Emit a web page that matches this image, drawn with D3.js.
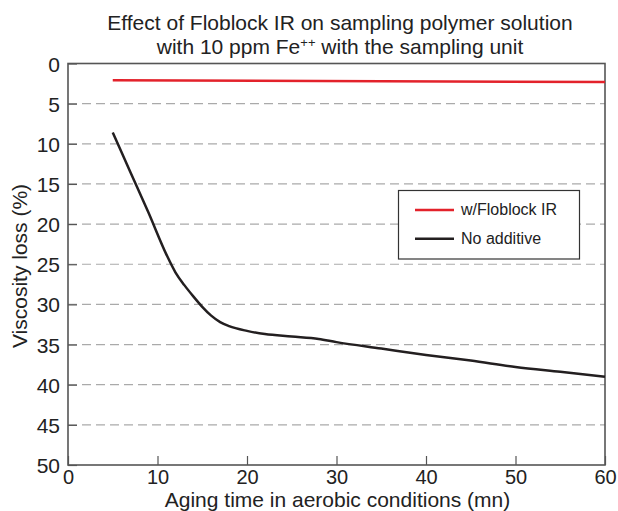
<!DOCTYPE html>
<html><head><meta charset="utf-8">
<script src="https://cdn.jsdelivr.net/npm/d3@7/dist/d3.min.js"></script>
<style>body{margin:0;background:#fff;} text{font-family:"Liberation Sans",Arial,sans-serif;fill:#222;}</style>
</head><body><svg id="c" width="618" height="511"></svg>
<script>
const titleLines = ["Effect of Floblock IR on sampling polymer solution", "with 10 ppm Fe", "++", " with the sampling unit"];
const xTicks = [0, 10, 20, 30, 40, 50, 60];
const yTicks = [0, 5, 10, 15, 20, 25, 30, 35, 40, 45, 50];
const seriesNames = ["w/Floblock IR", "No additive"];
const seriesColors = ["#e3222b", "#231f20"];
const floblockX = [5, 60];
const floblockY = [2.1, 2.3];
const noAddX = [5, 7, 9, 11, 12, 13, 14, 15, 16, 17, 18, 20, 22, 25, 28, 30, 35, 40, 45, 50, 55, 60];
const noAddY = [8.6, 13.6, 18.6, 23.8, 26.0, 27.6, 29.0, 30.3, 31.4, 32.2, 32.7, 33.3, 33.7, 34.0, 34.3, 34.7, 35.5, 36.3, 37.0, 37.8, 38.4, 39.0];

const svg = d3.select("#c");
const L = 68, R = 605, T = 63.5, B = 465;
const x = d3.scaleLinear().domain([0, 60]).range([L, R]);
const y = d3.scaleLinear().domain([0, 50]).range([T, B]);
const FONT = '"Liberation Sans",Arial,sans-serif';

// grid
svg.append("g").selectAll("line").data(yTicks.filter(d => d > 0 && d < 50)).join("line")
  .attr("x1", L).attr("x2", R).attr("y1", d => y(d)).attr("y2", d => y(d))
  .attr("stroke", "#aaa").attr("stroke-width", 1.2).attr("stroke-dasharray", "9,5");

// axes
const yAx = svg.append("g").attr("transform", `translate(${L},0)`)
  .call(d3.axisLeft(y).tickValues(yTicks).tickSize(-9).tickPadding(8));
const xAx = svg.append("g").attr("transform", `translate(0,${B})`)
  .call(d3.axisBottom(x).tickValues(xTicks).tickSize(-9).tickPadding(5));
[yAx, xAx].forEach(a => {
  a.select(".domain").remove();
  a.selectAll("line").attr("stroke", "#555").attr("stroke-width", 1.2);
  a.selectAll("text").attr("font-size", 21).attr("fill", "#222").attr("font-family", FONT);
});
xAx.selectAll("text").attr("font-size", 20);
yAx.selectAll("text").attr("dy", "0.36em");
// frame
svg.append("rect").attr("x", L).attr("y", T).attr("width", R - L).attr("height", B - T)
  .attr("fill", "none").attr("stroke", "#555").attr("stroke-width", 1.6);

// lines
const line = d3.line().x(d => x(d[0])).y(d => y(d[1])).curve(d3.curveMonotoneX);
svg.append("path").datum(floblockX.map((v, i) => [v, floblockY[i]]))
  .attr("d", line).attr("fill", "none").attr("stroke", seriesColors[0]).attr("stroke-width", 2.5);
svg.append("path").datum(noAddX.map((v, i) => [v, noAddY[i]]))
  .attr("d", line).attr("fill", "none").attr("stroke", seriesColors[1]).attr("stroke-width", 2.5);

// legend
svg.append("rect").attr("x", 398.5).attr("y", 190.5).attr("width", 181).attr("height", 68.5)
  .attr("fill", "#fff").attr("stroke", "#333").attr("stroke-width", 1.2);
seriesNames.forEach((n, i) => {
  const yy = 210 + i * 28.7;
  svg.append("line").attr("x1", 415).attr("x2", 454).attr("y1", yy).attr("y2", yy)
    .attr("stroke", seriesColors[i]).attr("stroke-width", 2.5);
  svg.append("text").attr("x", 461).attr("y", yy + 5.3).attr("font-size", 16).text(n);
});

// title
const cx = 340;
svg.append("text").attr("x", cx).attr("y", 29.5).attr("text-anchor", "middle").attr("font-size", 21).text(titleLines[0]);
const t2 = svg.append("text").attr("x", cx).attr("y", 53.5).attr("text-anchor", "middle").attr("font-size", 21);
t2.append("tspan").text(titleLines[1]);
t2.append("tspan").attr("dy", -7).attr("font-size", 13).text(titleLines[2]);
t2.append("tspan").attr("dy", 7).text(titleLines[3]);

// axis titles
svg.append("text").attr("x", 337.5).attr("y", 507).attr("text-anchor", "middle").attr("font-size", 21)
  .text("Aging time in aerobic conditions (mn)");
svg.append("text").attr("transform", "translate(27,266) rotate(-90)").attr("text-anchor", "middle").attr("font-size", 21)
  .text("Viscosity loss (%)");
</script></body></html>
